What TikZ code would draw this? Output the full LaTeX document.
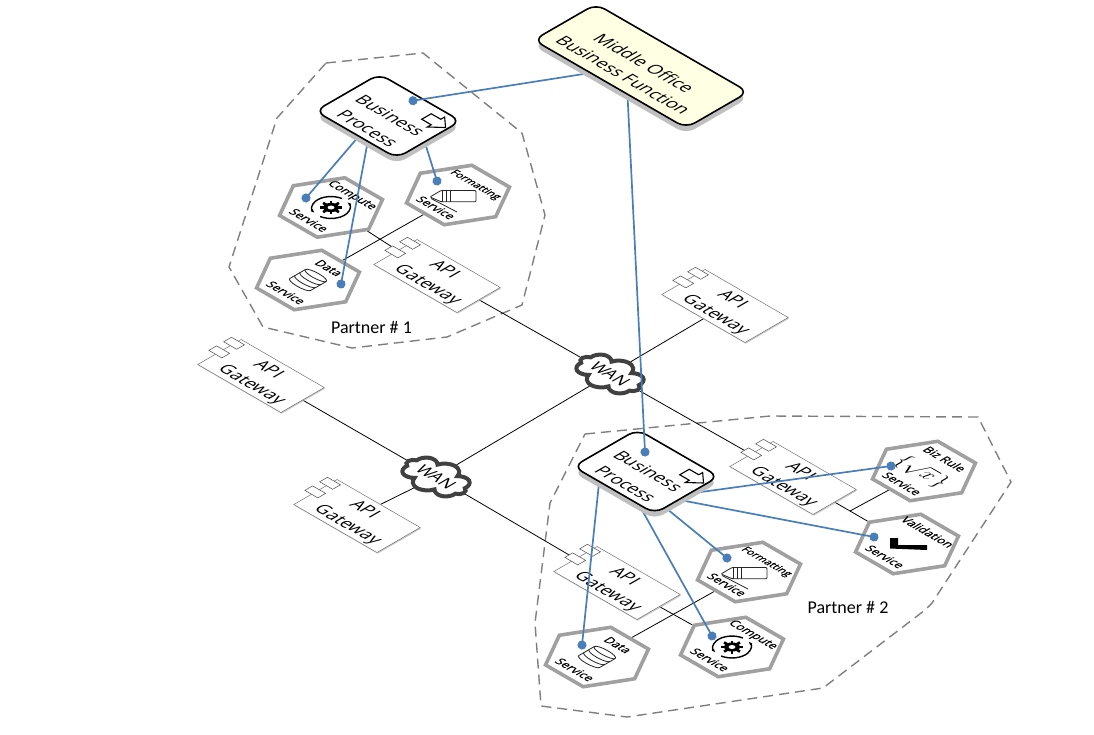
\documentclass[tikz,border=0pt]{standalone}
\usepackage{fontspec}
\setmainfont{Carlito}
\newfontfamily\isofont{Open Sans}
\newfontfamily\hexfont[FakeBold=0.5]{Open Sans}
\usetikzlibrary{calc,arrows.meta,backgrounds,shadows,shapes.geometric,shapes.symbols}

\definecolor{linkblue}{HTML}{4A7EBB}
\definecolor{hexgrey}{HTML}{A0A0A0}
\definecolor{dashgrey}{HTML}{7F7F7F}
\definecolor{cloudgrey}{HTML}{404040}
\definecolor{paleyellow}{HTML}{FFFFE3}

\tikzset{
	iso/.style={cm={0.866,-0.5,0.866,0.5,(0,0)}},
	isotext/.style={iso,inner sep=0pt,align=center,font=\isofont\fontsize{17.5}{26}\selectfont},
	hexbox/.style={iso,regular polygon,regular polygon sides=6,minimum size=87pt,inner sep=0pt,draw=hexgrey,line width=3.6pt,fill=white},
	hexlabel/.style={iso,inner sep=0pt,font=\hexfont\fontsize{12}{14}\selectfont},
	procbox/.style={iso,draw=black,line width=1.6pt,fill=white,rounded corners=10pt,minimum width=94pt,minimum height=74pt,inner sep=0pt,
		drop shadow={shadow xshift=0pt,shadow yshift=-6pt,fill=black!25,opacity=1}},
	gatebox/.style={iso,draw=black!55,line width=.5pt,fill=white,minimum width=96pt,minimum height=50pt,inner sep=0pt,
		drop shadow={shadow xshift=.8pt,shadow yshift=-1.2pt,fill=black!30,opacity=.7}},
	gatetab/.style={iso,draw=black!70,line width=.5pt,fill=white,minimum width=15pt,minimum height=9pt,inner sep=0pt},
	gatetext/.style={isotext,font=\isofont\fontsize{17.5}{25}\selectfont},
	wancloud/.style={iso,cloud,cloud puffs=8,aspect=1.8,draw=cloudgrey,line width=4pt,fill=white,inner sep=0pt,minimum width=64pt,minimum height=38pt,
		font=\isofont\fontsize{17}{20}\selectfont},
	plain/.style={draw=black,line width=.8pt},
	dotlink/.style={draw=linkblue,line width=1.7pt,shorten >=-4.5pt,-{Circle[length=9pt,width=9pt]}},
	partner/.style={dash pattern=on 10pt off 6pt,draw=dashgrey,line width=1.4pt},
	partnertext/.style={inner sep=0pt,font=\fontsize{18}{20}\selectfont},
	iconline/.style={draw=black!85,line width=.8pt},
	isoicon/.style={shift={(#1)},cm={0.866,-0.5,0.866,0.5,(0,0)},x=1pt,y=1pt}
}

% #1 how far the top label sits from the middle
\newcommand{\hexa}[4][24]{
	\node[hexbox] (#2) at (#3) {};
	\node[hexlabel] (#2top) at ($(#2.center)+(.866*#1,-.5*#1)$) {#4};
	\node[hexlabel] (#2bot) at ($(#2.center)+(-22,12.7)$) {Service};
}
\newcommand{\gateway}[2]{
	\node[gatebox] (#1) at (#2) {};
	\node[gatetab] (#1taba) at (#1.west) {};
	\node[gatetab] (#1tabb) at ($(#1.west)!.68!(#1.north west)$) {};
	\node[gatetext] (#1text) at ($(#1.center)+(1,3)$) {API\hspace*{12pt}\\Gateway};
}
\newcommand{\proc}[2]{
	\node[procbox] (#1) at (#2) {};
	\node[isotext] (#1text) at ($(#1.center)+(-9,6)$) {Business\\Process};
	\begin{scope}[isoicon={$(#1.center)+(48,6)$}]
		\draw[draw=black,line width=1.1pt,fill=white] (-11,-5.5) -- (0,-5.5) -- (0,-10) -- (11,0) -- (0,10) -- (0,5.5) -- (-11,5.5) -- cycle;
	\end{scope}
}
\newcommand{\gearicon}[1]{
	\begin{scope}[isoicon=#1]
		\fill[black] (0,0) circle (6.5);
		\foreach \a in {0,45,...,315}
			\draw[black,line width=2.6pt] (\a:5) -- (\a:9.2);
		\fill[white] (0,0) circle (2.8);
		\draw[black,line width=1.4pt,-{Latex[length=4pt]}] (100:15.5) arc (100:255:15.5);
		\draw[black,line width=1.4pt,-{Latex[length=4pt]}] (280:15.5) arc (280:435:15.5);
	\end{scope}
}
\newcommand{\penicon}[1]{
	\begin{scope}[shift={(#1)}]
		\draw[iconline,fill=white,rounded corners=1pt] (-28,2) -- (-17,-4.5) -- (18,-4.5) -- (18,6.7) -- (-17,6.7) -- cycle;
		\draw[iconline] (-16,-4.5) -- (-16,6.7) (-12,-4.5) -- (-12,6.7) (-8,-4.5) -- (-8,6.7);
		\draw[iconline] (-27,3.5) -- (-1,17);
	\end{scope}
}
\newcommand{\dbicon}[1]{
	\begin{scope}[isoicon=#1]
		\draw[iconline,fill=white] (-12,9) -- (-12,-9) arc (180:360:12 and 3.5) -- (12,9) arc (0:180:12 and 3.5) -- cycle;
		\draw[iconline] (-12,9) arc (180:360:12 and 3.5);
		\draw[iconline] (-12,3) arc (180:360:12 and 3.5);
		\draw[iconline] (-12,-3) arc (180:360:12 and 3.5);
	\end{scope}
}

\begin{document}
\begin{tikzpicture}[x=1pt,y=-1pt]
\useasboundingbox (0,0) rectangle (1094,734);

\gateway{gatea}{437,276}
\gateway{gateb}{725,306}
\gateway{gatec}{261,376}
\gateway{gated}{357,516}
\gateway{gatee}{793,478}
\gateway{gatef}{617,583}

\node[wancloud] (wana) at (610,374) {WAN};
\node[wancloud] (wanb) at (436,477) {WAN};

\hexa{computea}{331,207.5}{Compute}
\hexa[20]{formata}{458,195}{\fontsize{10.5}{12}\selectfont Formatting}
\hexa{dataa}{308,280}{Data}
\hexa{bizrule}{924,471}{Biz Rule}
\hexa{validate}{907,544}{Validation}
\hexa[20]{formatb}{749,572}{\fontsize{10.5}{12}\selectfont Formatting}
\hexa{computeb}{732,647}{Compute}
\hexa{datab}{597,657}{Data}

\gearicon{computea.center}
\gearicon{computeb.center}
\penicon{formata.center}
\penicon{formatb.center}
\dbicon{dataa.center}
\dbicon{datab.center}
\node[iso,inner sep=0pt,font=\fontsize{22}{24}\selectfont] (bizicon) at (922,472) {$\Big\{\sqrt{x}\,\Big\}$};
\fill[black] ($(validate.center)+(-17,-6)$) -- ++(8,0) -- ++(0,7) -- ++(29,0) -- ++(0,5) -- ++(-37,-1.5) -- cycle;

\coordinate (bizjoin) at (850,511);

\begin{scope}[on background layer]
	\draw[partner] (326,63) -- (423,53) -- (522,133) -- (545,215) -- (522,305) -- (447,337) -- (352,348) -- (263,327) -- (229,267) -- (277,118) -- cycle;
	\draw[partner] (585,434) -- (770,416) -- (978,417) -- (1011,482) -- (932,603) -- (925,610) -- (823,688) -- (627,717) -- (541,706) -- (535,623) -- (550,503) -- cycle;
	\draw[plain] (gatea) -- (wana);
	\draw[plain] (gateb) -- (wana);
	\draw[plain] (gatee) -- (wana);
	\draw[plain] (wana) -- (wanb);
	\draw[plain] (gatec) -- (wanb);
	\draw[plain] (gated) -- (wanb);
	\draw[plain] (gatef) -- (wanb);
	\draw[plain] (gatea) -- (computea);
	\draw[plain] (formata) -- (dataa);
	\draw[plain] (gatee) -- (validate);
	\draw[plain] (bizrule) -- (bizjoin);
	\draw[plain] (gatef) -- (computeb);
	\draw[plain] (formatb) -- (datab);
\end{scope}

\node[partnertext] (partnera) at (371.5,327) {Partner \# 1};
\node[partnertext] (partnerb) at (848,607) {Partner \# 2};

% links out of the two processes
\coordinate (proca) at (359,136);
\coordinate (procb) at (367.5,143);
\coordinate (procc) at (425,143);
\coordinate (procd) at (599,483);
\coordinate (proce) at (642,510);
\coordinate (procf) at (663,505.6);
\coordinate (procg) at (680,500);
\coordinate (proch) at (698,492.4);
\coordinate (dota) at (306,198);
\coordinate (dotb) at (341,284);
\coordinate (dotc) at (437,181);
\coordinate (dotd) at (582,645);
\coordinate (dote) at (712,636);
\coordinate (dotf) at (727,558);
\coordinate (dotg) at (874,537);
\coordinate (doth) at (891,466);
\draw[dotlink] (proca) -- (dota);
\draw[dotlink] (procb) -- (dotb);
\draw[dotlink] (procc) -- (dotc);
\draw[dotlink] (procd) -- (dotd);
\draw[dotlink] (proce) -- (dote);
\draw[dotlink] (procf) -- (dotf);
\draw[dotlink] (procg) -- (dotg);
\draw[dotlink] (proch) -- (doth);

\proc{bpa}{388,116}
\proc{bpb}{646,471.5}

\coordinate (midleft) at (590,73);
\coordinate (midlow) at (627.5,95);
\coordinate (doti) at (413,100.7);
\coordinate (dotj) at (645,452);
\draw[dotlink] (midleft) -- (doti);
\draw[dotlink] (midlow) -- (dotj);

\node[procbox,fill=paleyellow,minimum width=176pt,minimum height=72pt] (midoffice) at (641,66) {};
\node[isotext,font=\isofont\fontsize{17.5}{24}\selectfont] (midtext) at ($(midoffice.center)+(-7,3)$) {Middle Office\\Business Function};
\end{tikzpicture}
\end{document}
